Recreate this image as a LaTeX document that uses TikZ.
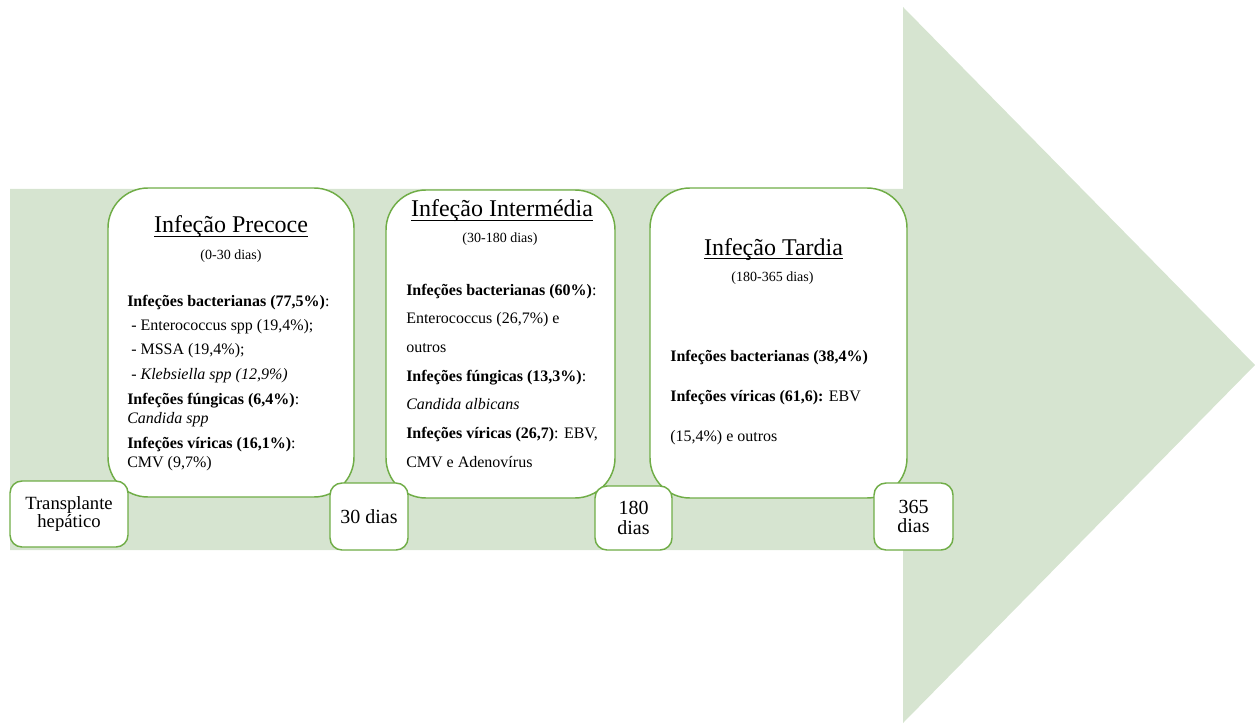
\documentclass[tikz,border=0pt]{standalone}
\usepackage{fontspec}
\setmainfont{Liberation Serif}
\usetikzlibrary{positioning}
\definecolor{Sage}{HTML}{D6E4D0}
\definecolor{Leaf}{HTML}{70AD47}
\newcommand{\titleline}[1]{\setbox0\hbox{#1}\rlap{\rule[-3pt]{\wd0}{0.7pt}}\box0}

\begin{document}
\begin{tikzpicture}[x=0.75pt, y=-0.75pt,
    phase/.style={draw=Leaf, fill=white, line width=1.1pt, rounded corners=30pt, inner sep=0pt},
    mark box/.style={draw=Leaf, fill=white, line width=1.1pt, rounded corners=9pt, inner sep=0pt, align=center, font=\fontsize{15}{14.5}\selectfont},
    title/.style={anchor=base, font=\fontsize{18}{20}\selectfont},
    period/.style={anchor=base, font=\fontsize{10.5}{12}\selectfont},
    body/.style={anchor=base west, align=left, inner sep=0pt}]
    \useasboundingbox (0,0) rectangle (1255,727);
    % big arrow in the background
    \fill[Sage] (10,189) -- (903,189) -- (903,7) -- (1255,365) -- (903,723) -- (903,550) -- (10,550) -- cycle;

    % phases
    \node[phase, minimum width=184.5pt, minimum height=231.75pt] (early) at (231,342.5) {};
    \node[phase, minimum width=171.75pt, minimum height=231pt] (mid) at (500.5,344) {};
    \node[phase, minimum width=192.75pt, minimum height=232.5pt] (late) at (778.5,343) {};

    \node[title] (earlyT) at (231,233) {\titleline{Infeção Precoce}};
    \node[period] (earlyP) at (231,259) {(0-30 dias)};
    % base = last line
    \node[body, font=\fontsize{12}{14.25}\selectfont] (earlyB) at (127,467) {%
      \textbf{Infeções bacterianas (77,5\%)}:\\[4pt]
      \ - Enterococcus spp (19,4\%);\\[4pt]
      \ - MSSA (19,4\%);\\[4pt]
      \ \textit{- Klebsiella spp (12,9\%)}\\[4.5pt]
      \textbf{Infeções fúngicas (6,4\%)}:\\
      \textit{Candida spp}\\[4.5pt]
      \textbf{Infeções víricas (16,1\%)}:\\
      CMV (9,7\%)};

    \node[title] (midT) at (502,216.5) {\titleline{Infeção Intermédia}};
    \node[period] (midP) at (500,243) {(30-180 dias)};
    \node[body, font=\fontsize{12}{21.5}\selectfont] (midB) at (406,467) {%
      \textbf{Infeções bacterianas (60\%)}:\\
      Enterococcus (26,7\%) e\\
      outros\\
      \textbf{Infeções fúngicas (13,3\%)}:\\
      \textit{Candida albicans}\\
      \textbf{Infeções víricas (26,7)}: EBV,\\
      CMV e Adenovírus};

    \node[title] (lateT) at (773.5,255) {\titleline{Infeção Tardia}};
    \node[period] (lateP) at (772.5,281.5) {(180-365 dias)};
    \node[body, font=\fontsize{12}{30}\selectfont] (lateB) at (670,441.5) {%
      \textbf{Infeções bacterianas (38,4\%)}\\
      \textbf{Infeções víricas (61,6):} EBV\\
      (15,4\%) e outros};

    % time marks
    \node[mark box, minimum width=88.5pt, minimum height=49.5pt, font=\fontsize{14}{14}\selectfont] (tx) at (69,514) {Transplante\\hepático};
    \node[mark box, minimum width=58.5pt, minimum height=50.25pt] (d30) at (369,516.5) {30 dias};
    \node[mark box, minimum width=57.75pt, minimum height=48pt] (d180) at (633.5,518) {180\\dias};
    \node[mark box, minimum width=59.25pt, minimum height=50.25pt] (d365) at (913.5,516.5) {365\\dias};
\end{tikzpicture}
\end{document}
